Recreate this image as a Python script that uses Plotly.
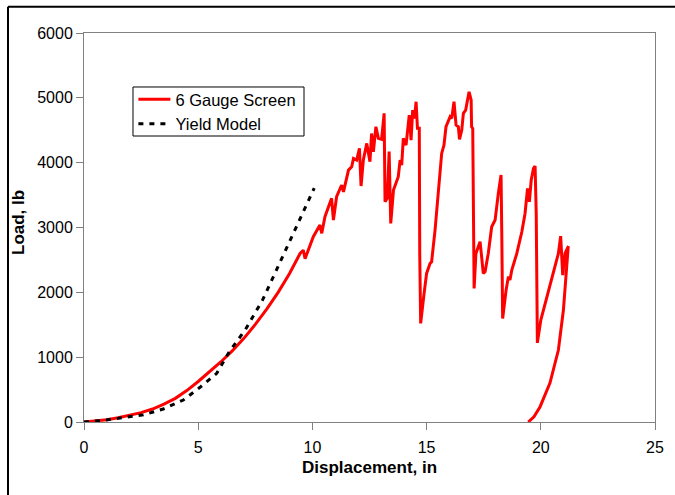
import plotly.graph_objects as go

# 6 Gauge Screen: load (lb) vs displacement (in)
screen_x = [0, 0.5, 1, 1.5, 2, 2.5, 3, 3.5, 4, 4.5, 5, 5.5, 6, 6.5, 7, 7.5, 8, 8.5, 9, 9.46,
            9.6, 9.68, 10.04, 10.33, 10.41, 10.55, 10.84, 10.92, 11.06, 11.28, 11.36, 11.58, 11.72,
            11.8, 11.94, 12.06, 12.13, 12.23, 12.38, 12.52, 12.59, 12.67, 12.78, 12.89, 13.03,
            13.14, 13.18, 13.28, 13.36, 13.43, 13.55, 13.76, 13.84, 13.91, 13.98, 14.1, 14.16,
            14.24, 14.32, 14.39, 14.47, 14.54, 14.6, 14.68, 14.7, 14.74, 14.89, 15.0, 15.15, 15.22,
            15.37, 15.51, 15.66, 15.76, 15.85, 16.03, 16.1, 16.2, 16.29, 16.39, 16.44, 16.54,
            16.61, 16.71, 16.86, 16.95, 16.97, 17.02, 17.08, 17.16, 17.34, 17.41, 17.48, 17.56,
            17.7, 17.85, 18.0, 18.14, 18.26, 18.29, 18.33, 18.48, 18.58, 18.65, 18.73, 18.95,
            19.17, 19.31, 19.42, 19.5, 19.58, 19.68, 19.75, 19.8, 19.85, 20.0, 20.12, 20.34,
            20.48, 20.63, 20.77, 20.87, 20.96, 21.06, 21.21,
            21.2, 21.1, 20.99, 20.77, 20.4, 19.97, 19.7, 19.45]
screen_y = [0, 12, 35, 65, 100, 145, 200, 275, 365, 485, 625, 770, 930, 1100, 1290, 1505, 1740, 2000, 2290, 2600,
            2650, 2520, 2858, 3038, 2910, 3166, 3450, 3115, 3475, 3655, 3550, 3885, 3935,
            4065, 4040, 4220, 3640, 4040, 4297, 4014, 4450, 4168, 4554, 4374, 4359,
            4760, 3397, 3450, 4170, 3063, 3578, 3784, 4040, 3963, 4374, 4271, 4477,
            4734, 4348, 4811, 4683, 4940, 4529, 4529, 2575, 1520, 1983, 2292, 2446, 2472,
            2960, 3526, 4142, 4271, 4554, 4708, 4683, 4940, 4580, 4554, 4360, 4503,
            4760, 4811, 5094, 4966, 4554, 4529, 2060, 2600, 2780, 2549, 2292, 2318,
            2600, 3012, 3115, 3526, 3810, 2960, 1597, 2034, 2240, 2189, 2343, 2600,
            2934, 3217, 3603, 3397, 3732, 3912, 3948, 3217, 1220, 1571, 1726, 2034,
            2189, 2395, 2600, 2867, 2266, 2600, 2714,
            2703, 2240, 1727, 1110, 600, 236, 80, 0]

# Yield Model
model_x = [0, 0.85, 1.98, 2.6, 3.47, 4.35, 5.08, 5.81, 6.39, 7.06, 7.82, 8.57, 9.33, 10.08]
model_y = [0, 25, 80, 110, 200, 339, 535, 750, 1100, 1420, 1883, 2450, 3016, 3607]

x_ticks = [0, 5, 10, 15, 20, 25]
y_ticks = [0, 1000, 2000, 3000, 4000, 5000, 6000]

x_title = "<b>Displacement, in</b>"
y_title = "<b>Load, lb</b>"

fig = go.Figure()
fig.add_trace(go.Scatter(x=screen_x, y=screen_y, mode="lines", name="6 Gauge Screen",
                         line=dict(color="#ff0000", width=3)))
fig.add_trace(go.Scatter(x=model_x, y=model_y, mode="lines", name="Yield Model",
                         line=dict(color="#000000", width=3, dash="5px,6px")))

font = "Liberation Sans, Arial, sans-serif"
fig.update_layout(
    width=675, height=495,
    margin=dict(l=84, r=20, t=33, b=73, autoexpand=False),
    paper_bgcolor="white", plot_bgcolor="white",
    font=dict(family=font, size=16, color="black"),
    showlegend=True,
    legend=dict(x=0.0865, y=0.874, xanchor="left", yanchor="top",
                borderwidth=0, bgcolor="rgba(0,0,0,0)",
                font=dict(size=16.5), tracegroupgap=0, itemwidth=32),
    xaxis=dict(range=[0, 25], tickvals=x_ticks, showgrid=False, zeroline=False,
               showline=True, linecolor="#808080", linewidth=1, mirror=True,
               ticks="outside", ticklen=7, tickcolor="#808080", automargin=False,
               ticklabelstandoff=4),
    yaxis=dict(range=[0, 6000], tickvals=y_ticks, showgrid=False, zeroline=False,
               showline=True, linecolor="#808080", linewidth=1, mirror=True,
               ticks="outside", ticklen=7, tickcolor="#808080", automargin=False),
    annotations=[
        dict(text=x_title, xref="paper", yref="paper", x=0.5, y=-0.118,
             xanchor="center", yanchor="middle", showarrow=False, font=dict(size=17)),
        dict(text=y_title, xref="paper", yref="paper", x=-0.1138, y=0.5116,
             xanchor="center", yanchor="middle", showarrow=False, textangle=-90,
             font=dict(size=17)),
    ],
    shapes=[
        # outer frame: top and left edges (right and bottom lie outside the picture)
        dict(type="line", xref="paper", yref="paper",
             x0=-0.1331, x1=1.1, y0=1.0676, y1=1.0676,
             line=dict(color="black", width=2), layer="below"),
        dict(type="line", xref="paper", yref="paper",
             x0=-0.1331, x1=-0.1331, y0=1.0676, y1=-0.3,
             line=dict(color="black", width=2), layer="below"),
        # legend box
        dict(type="rect", xref="paper", yref="paper",
             x0=0.0858, x1=0.3853, y0=0.7352, y1=0.8612,
             line=dict(color="black", width=1), fillcolor="white", layer="below"),
    ],
)

fig.write_html("out.html", config={"displayModeBar": False},
               post_script="document.body.style.margin='0';"
                           "document.documentElement.style.overflow='hidden';")
